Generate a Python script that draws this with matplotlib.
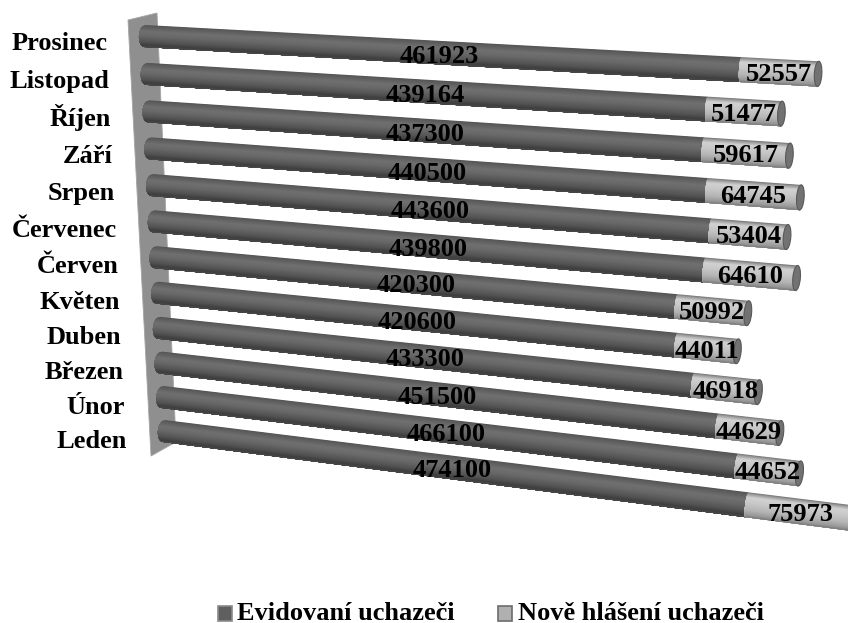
import numpy as np
import matplotlib
matplotlib.use("Agg")
import matplotlib.pyplot as plt
from matplotlib.patches import Polygon, Rectangle, Ellipse

plt.rcParams['font.family'] = ['Liberation Serif', 'DejaVu Serif']

months = ["Leden", "Únor", "Březen", "Duben", "Květen", "Červen", "Červenec",
          "Srpen", "Září", "Říjen", "Listopad", "Prosinec"]
evidovani = [474100, 466100, 451500, 433300, 420600, 420300, 439800,
             443600, 440500, 437300, 439164, 461923]
nove = [75973, 44652, 44629, 46918, 44011, 50992, 64610,
        53404, 64745, 59617, 51477, 52557]
series_names = ["Evidovaní uchazeči", "Nově hlášení uchazeči"]

W, H = 848, 623
fig = plt.figure(figsize=(W / 100, H / 100), dpi=100)
ax = fig.add_axes([0, 0, 1, 1])
ax.set_xlim(0, W)
ax.set_ylim(H, 0)
ax.axis("off")

# perspective mapping: value / row -> pixel
S0 = np.array([164.0, 431.0]); S1 = np.array([145.0, 36.0])
E0 = np.array([783.0, 509.3]); E1 = np.array([796.5, 72.7])
REF = 500000.0
K = 0.14
Q = 0.06
n = len(months)


def proj(v, i, s=0.0, cap=0.0):
    w = i / (n - 1)
    w = w / (1 + Q * (1 - w))
    t = v / REF
    f = t / (1 + K * (1 - t))
    a = S0 + (S1 - S0) * w
    b = E0 + (E1 - E0) * w
    p = a + (b - a) * f
    d = (b - a) / np.hypot(*(b - a))
    normal = np.array([-d[1], d[0]])
    thick = 22.0 + 3.2 * f
    return p + normal * s * thick / 2 - d * cap * np.sqrt(max(0.0, 1 - s * s))


def shade(stops, s):
    xs, cs = zip(*stops)
    return float(np.interp(s, xs, cs))


dark = [(-1, .33), (-.85, .36), (-.4, .44), (0, .41), (.5, .33), (.85, .24), (1, .30)]
light = [(-1, .45), (-.85, .62), (-.6, .82), (-.2, .79), (.4, .71), (.8, .60), (1, .48)]
ss = np.linspace(-1, 1, 41)


def tube(v1, v2, i, stops, cap):
    # painter's strips: each runs from its top edge to the tube's bottom, so no seams show
    for a, mid in zip(ss[:-1], (ss[:-1] + ss[1:]) / 2):
        low = np.linspace(a, 1, 12)
        pts = [proj(v2, i, a), proj(v2, i, 1)] + [proj(v1, i, q, cap) for q in low[::-1]]
        g = shade(stops, mid)
        ax.add_patch(Polygon(pts, closed=True, facecolor=(g, g, g), edgecolor="none", zorder=3))


# back wall
ax.add_patch(Polygon([(128, 20), (157, 13), (176, 442), (151, 456)], closed=True,
                     facecolor="#8f8f8f", edgecolor="#a4a4a4", lw=0.6, zorder=1))

for i in range(n):
    a, b = evidovani[i], nove[i]
    tube(0, a, i, dark, 6.0)
    tube(a, a + b, i, light, 1.5)
    end = proj(a + b, i)
    h = np.hypot(*(proj(a + b, i, 1) - proj(a + b, i, -1)))
    tilt = np.degrees(np.arctan2(*(proj(a + b, i, 0) - proj(0, i, 0))[::-1]))
    ax.add_patch(Ellipse(end, 7.5, h, angle=tilt, facecolor="#727272", edgecolor="#585858",
                         lw=0.8, zorder=4))

    lab = proj(0, i)
    ax.text(lab[0] - 37.5, lab[1] + 17 - 3 * i / (n - 1), months[i], ha="right", va="baseline",
            fontsize=19, fontweight="bold", color="black", zorder=6)
    p1 = proj(a / 2, i)
    ax.text(p1[0] + 14.5, p1[1] + 5, str(a), ha="center", va="center",
            fontsize=19, fontweight="bold", color="black", zorder=6)
    p2 = proj(a + b / 2, i)
    ax.text(p2[0], p2[1] + 3, str(b), ha="center", va="center",
            fontsize=19, fontweight="bold", color="black", zorder=6)

# legend
ax.add_patch(Rectangle((217.5, 605.5), 14, 15, facecolor="#5f5f5f", edgecolor="#8a8a8a", lw=1.2, zorder=5))
ax.text(237, 619.5, series_names[0], ha="left", va="baseline", fontsize=19, fontweight="bold")
ax.add_patch(Rectangle((497.5, 605.5), 14.5, 15, facecolor="#b0b0b0", edgecolor="#6c6c6c", lw=1.2, zorder=5))
ax.text(518, 619.5, series_names[1], ha="left", va="baseline", fontsize=19, fontweight="bold")

fig.savefig("out.png", dpi=100)
